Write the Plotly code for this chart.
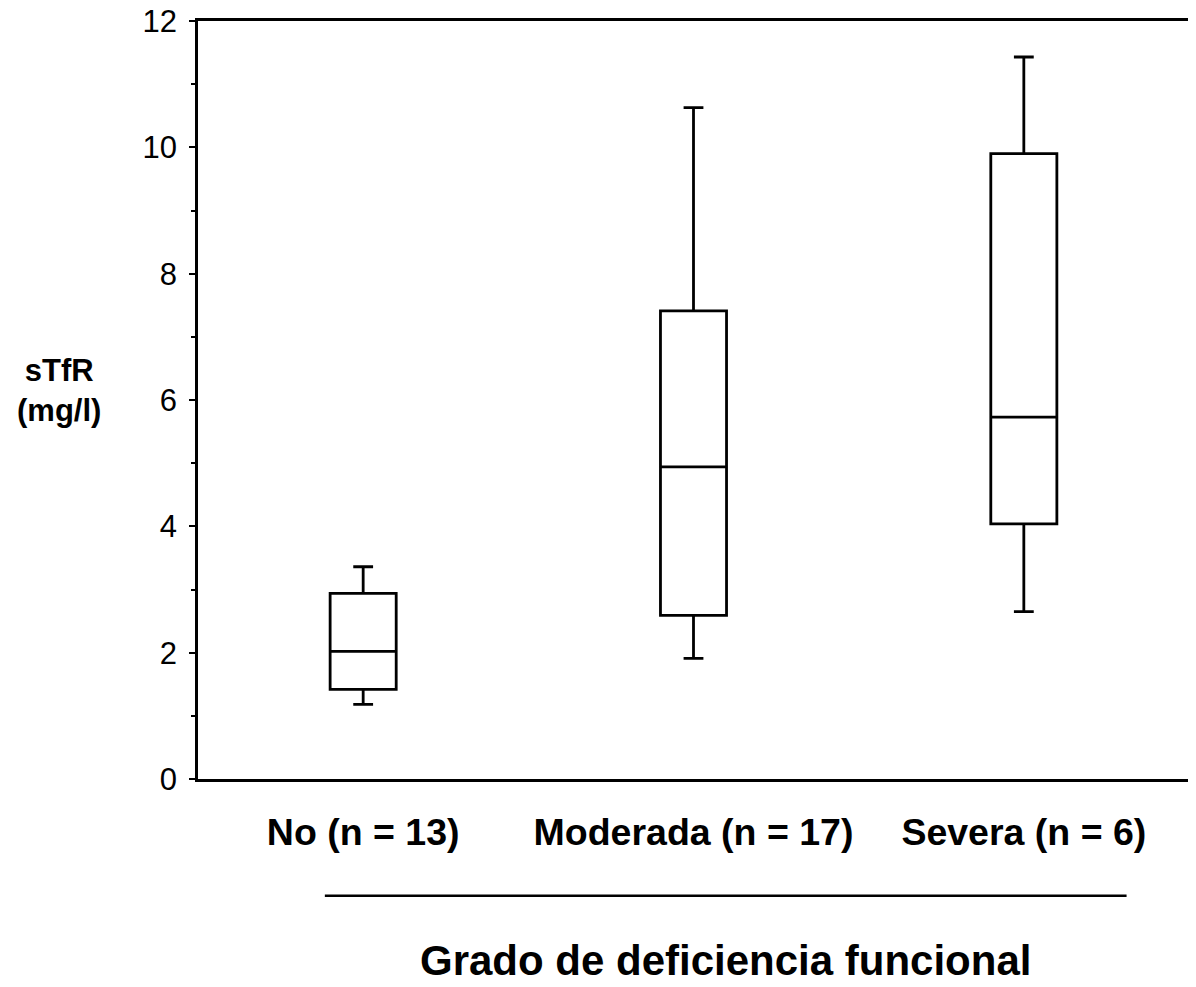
import plotly.graph_objects as go

groups = ['No (n = 13)', 'Moderada (n = 17)', 'Severa (n = 6)']
lower = [1.18, 1.91, 2.65]
q1 = [1.42, 2.59, 4.04]
median = [2.02, 4.94, 5.73]
q3 = [2.94, 7.41, 9.90]
upper = [3.36, 10.63, 11.43]

y_ticks = [0, 2, 4, 6, 8, 10, 12]

FONT = 'Liberation Sans, Arial, Helvetica, sans-serif'

fig = go.Figure()

fig.add_trace(
    go.Box(
        x=groups,
        lowerfence=lower,
        q1=q1,
        median=median,
        q3=q3,
        upperfence=upper,
        width=0.2,
        whiskerwidth=0.3,
        fillcolor='white',
        line=dict(color='black', width=2.8),
        boxpoints=False,
        showlegend=False,
        hoverinfo='none',
    )
)

# invisible helper so the right-hand tick axis gets drawn
fig.add_trace(
    go.Scatter(
        x=groups, y=median, yaxis='y2',
        mode='markers', marker=dict(opacity=0),
        showlegend=False, hoverinfo='skip',
    )
)

# the html page adds an 8px body margin, so the figure is 8px smaller
fig.update_layout(
    width=1188,
    height=979,
    margin=dict(l=190, r=7, t=13, b=208),
    plot_bgcolor='white',
    paper_bgcolor='white',
    font=dict(family=FONT, color='black'),
    xaxis=dict(
        type='category',
        range=[-0.5, 2.5],
        automargin=False,
        showgrid=False,
        zeroline=False,
        showline=True,
        linecolor='black',
        linewidth=2.5,
        mirror=True,
        ticks='',
        tickfont=dict(size=37.5, family=FONT, weight='bold'),
        ticklabelstandoff=18,
    ),
    yaxis=dict(
        range=[0, 12],
        tickvals=y_ticks,
        automargin=False,
        ticklabeloverflow='allow',
        showgrid=False,
        zeroline=False,
        showline=True,
        linecolor='black',
        linewidth=2.5,
        mirror=True,
        ticks='outside',
        ticklen=6,
        tickwidth=2,
        tickcolor='black',
        minor=dict(dtick=1, ticks='outside', ticklen=4, tickwidth=2, tickcolor='black'),
        tickfont=dict(size=31, family=FONT),
        ticklabelstandoff=6,
    ),
    yaxis2=dict(
        overlaying='y',
        side='right',
        anchor='x',
        range=[0, 12],
        tickmode='linear',
        tick0=0,
        dtick=1,
        automargin=False,
        showgrid=False,
        zeroline=False,
        showline=True,
        linecolor='black',
        linewidth=2.5,
        showticklabels=False,
        ticks='outside',
        ticklen=5,
        tickwidth=2.5,
        tickcolor='black',
    ),
)

# y-axis title, set horizontally at the left
fig.add_annotation(
    text='<b>sTfR<br>(mg/l)</b>',
    xref='paper', yref='paper',
    x=-0.14, y=0.512,
    xanchor='center', yanchor='middle',
    showarrow=False,
    font=dict(size=31, family=FONT),
    align='center',
)

# rule under the group labels
fig.add_shape(
    type='line',
    xref='paper', yref='paper',
    x0=0.128, x1=0.937, y0=-0.154, y1=-0.154,
    line=dict(color='black', width=2.5),
)

fig.add_annotation(
    text='<b>Grado de deficiencia funcional</b>',
    xref='paper', yref='paper',
    x=0.532, y=-0.24,
    xanchor='center', yanchor='middle',
    showarrow=False,
    font=dict(size=42, family=FONT),
)

fig.write_html('out.html')
